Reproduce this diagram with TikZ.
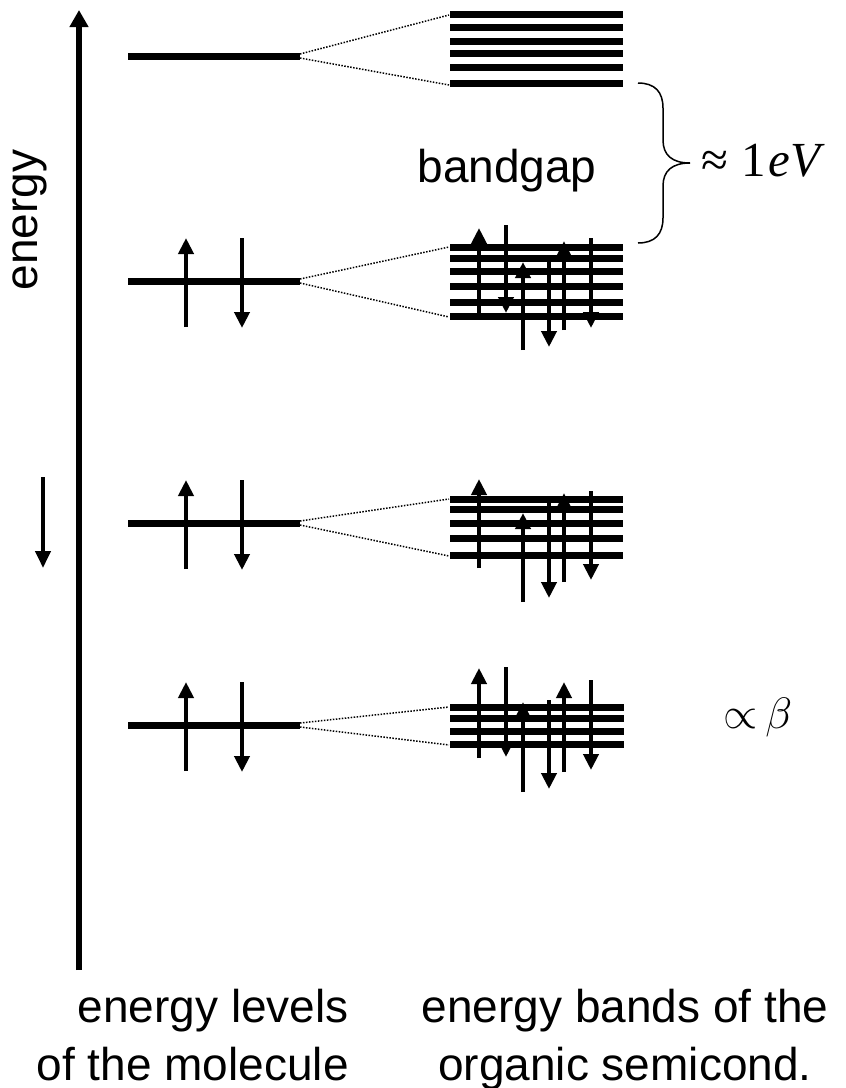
\RequirePackage{fix-cm}
\documentclass[tikz,border=0pt]{standalone}
\usepackage{fontspec}
\setmainfont{Liberation Sans}
\newfontfamily\libserif{Liberation Serif}
\usetikzlibrary{arrows.meta}
\begin{document}
\begin{tikzpicture}[x=1pt,y=-1pt,
  mlevel/.style={line width=7pt},
  bandline/.style={line width=7pt},
  link/.style={line width=1.5pt, dash pattern=on 1.5pt off 1.5pt},
  spinarrow/.style={line width=4pt,-{Triangle[width=15pt,length=16pt]}},
  energyaxis/.style={line width=5.5pt,-{Triangle[width=18pt,length=17pt]}},
  lbl/.style={inner sep=0pt,font=\fontsize{46}{58}\selectfont},
  mathlbl/.style={inner sep=0pt,anchor=base west,font=\fontsize{44}{52}\selectfont}]
\useasboundingbox (0,0) rectangle (846,1088);

% energy axis and the small arrow beside it
\draw[energyaxis] (79,970) -- (79,10);
\draw[line width=4pt,-{Triangle[width=15pt,length=17pt]}] (43,477) -- (43,568);
\node[lbl, rotate=90, anchor=base] (energy) at (37,220) {energy};

% molecular levels
\foreach \n/\y in {1/56,2/281,3/523,4/725} {
  \draw[mlevel] (128,\y) -- (300,\y);
  \coordinate (m\n u) at (300,\y-2);
  \coordinate (m\n d) at (300,\y+2);
}
% electron pairs on the occupied levels
\foreach \y in {281,523,725} {
  \draw[spinarrow] (186,\y+46) -- (186,\y-43);
  \draw[spinarrow] (242,\y-43) -- (242,\y+47);
}

% bands of the solid
\foreach \y in {14,27,41,53,67,83} \draw[bandline] (450,\y) -- (623,\y);
\foreach \y in {247,258,271,286,302,316} \draw[bandline] (450,\y) -- (623,\y);
\foreach \y in {499,509,523,538,555} \draw[bandline] (450,\y) -- (623,\y);
\foreach \y in {707,718,731,744} \draw[bandline] (450,\y) -- (624,\y);
\coordinate (b1t) at (449,15);  \coordinate (b1b) at (449,85);
\coordinate (b2t) at (449,247); \coordinate (b2b) at (449,317);
\coordinate (b3t) at (449,499); \coordinate (b3b) at (449,556);
\coordinate (b4t) at (449,707); \coordinate (b4b) at (449,745);

% splitting of each level into a band
\foreach \n in {1,2,3,4} {
  \draw[link] (m\n u) -- (b\n t);
  \draw[link] (m\n d) -- (b\n b);
}

% spins in the bands
\foreach \x/\a/\b in {479/313/228, 506/225/313, 523/350/262, 549/262/347, 564/330/241, 591/238/328,
                      479/568/479, 523/602/513, 549/503/598, 564/582/493, 591/491/580,
                      479/758/668, 506/667/757, 523/792/702, 549/700/789, 564/772/682, 591/680/770}
  \draw[spinarrow] (\x,\a) -- (\x,\b);

% gap between the bands
\draw[line width=1.5pt] (638,83) .. controls (655,83) and (663,92) .. (663,108) -- (663,140)
  .. controls (663,155) and (672,163) .. (690,163)
  .. controls (672,163) and (663,171) .. (663,186) -- (663,218)
  .. controls (663,234) and (655,243) .. (638,243);
\node[lbl, anchor=base] (gap) at (507,182) {bandgap};
\node[mathlbl, font=\fontsize{49}{56}\selectfont] (ev) at (701,176)
  {\libserif ≈\hspace{13pt}1\hspace{3pt}\textit{eV}};
\node[mathlbl] (beta) at (723,728) {$\propto$\hspace{8pt}$\beta$};

% captions
\node[lbl, align=right, anchor=north east] (mol) at (349,988.5) {energy levels\\of the molecule};
\node[lbl, align=center, anchor=north] (osc) at (625,988.5) {energy bands of the\\organic semicond.};
\end{tikzpicture}
\end{document}
